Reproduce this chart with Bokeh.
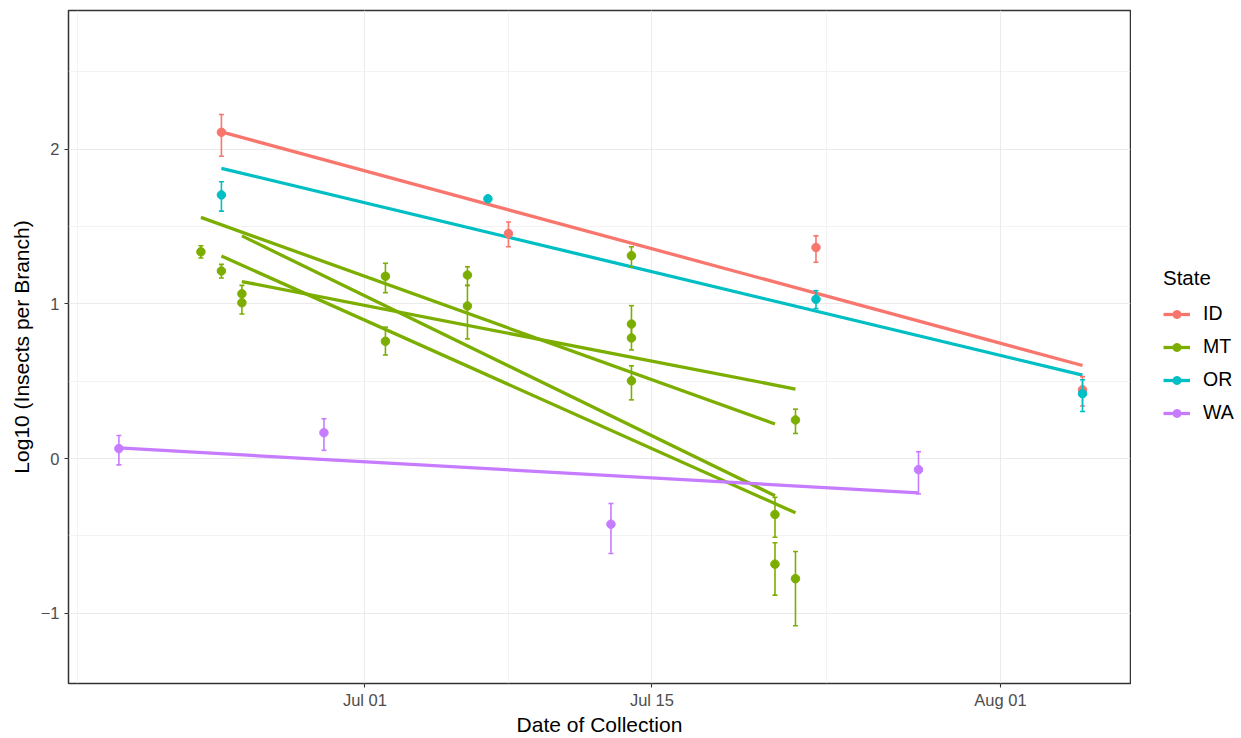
import pandas as pd
from bokeh.plotting import figure
from bokeh.layouts import row
from bokeh.models import (Range1d, FixedTicker, DatetimeTickFormatter, Whisker, TeeHead,
                          ColumnDataSource, Legend, LegendItem)
from bokeh.embed import file_html
from bokeh.resources import INLINE

# ---- data -------------------------------------------------------------
state_names = ["ID", "MT", "OR", "WA"]
state_colors = ["#F8766D", "#7CAE00", "#00BFC4", "#C77CFF"]

# mean log10 insects per branch with error bar limits
id_dates = ["2017-06-24", "2017-07-08", "2017-07-23", "2017-08-05"]
id_mean = [2.11, 1.455, 1.365, 0.445]
id_lower = [1.955, 1.37, 1.27, 0.34]
id_upper = [2.225, 1.53, 1.44, 0.53]

mt_dates = ["2017-06-23", "2017-06-24", "2017-06-25", "2017-06-25",
            "2017-07-02", "2017-07-02", "2017-07-06", "2017-07-06",
            "2017-07-14", "2017-07-14", "2017-07-14", "2017-07-14",
            "2017-07-21", "2017-07-21", "2017-07-22", "2017-07-22"]
mt_mean = [1.337, 1.213, 1.066, 1.008, 1.179, 0.759, 1.187, 0.987,
           1.312, 0.87, 0.78, 0.503, -0.361, -0.682, 0.25, -0.776]
mt_lower = [1.297, 1.168, 1.01, 0.935, 1.073, 0.67, 1.12, 0.774,
            1.24, 0.76, 0.703, 0.38, -0.508, -0.882, 0.163, -1.08]
mt_upper = [1.376, 1.256, 1.12, 1.07, 1.263, 0.85, 1.24, 1.12,
            1.37, 0.989, 0.89, 0.60, -0.25, -0.544, 0.32, -0.60]

or_dates = ["2017-06-24", "2017-07-07", "2017-07-23", "2017-08-05"]
or_mean = [1.705, 1.68, 1.03, 0.42]
or_lower = [1.60, 1.68, 0.97, 0.305]
or_upper = [1.79, 1.68, 1.086, 0.51]

wa_dates = ["2017-06-19", "2017-06-29", "2017-07-13", "2017-07-28"]
wa_mean = [0.065, 0.168, -0.424, -0.071]
wa_lower = [-0.04, 0.054, -0.613, -0.228]
wa_upper = [0.15, 0.258, -0.29, 0.045]

# linear fits (one per collection site)
fit_state = ["ID", "MT", "MT", "MT", "MT", "OR", "WA"]
fit_start_date = ["2017-06-24", "2017-06-23", "2017-06-24", "2017-06-25", "2017-06-25",
                  "2017-06-24", "2017-06-19"]
fit_start = [2.112, 1.56, 1.31, 1.44, 1.145, 1.877, 0.069]
fit_end_date = ["2017-08-05", "2017-07-21", "2017-07-22", "2017-07-21", "2017-07-22",
                "2017-08-05", "2017-07-28"]
fit_end = [0.602, 0.224, -0.35, -0.24, 0.45, 0.54, -0.221]

x_tick_dates = ["2017-07-01", "2017-07-15", "2017-08-01"]
x_minor_dates = ["2017-06-17", "2017-07-08", "2017-07-23 12:00"]
y_ticks = [-1, 0, 1, 2]
y_minor = [-0.5, 0.5, 1.5, 2.5]
y_tick_labels = ["\u22121", "0", "1", "2"]

series = {
    "ID": (id_dates, id_mean, id_lower, id_upper),
    "MT": (mt_dates, mt_mean, mt_lower, mt_upper),
    "OR": (or_dates, or_mean, or_lower, or_upper),
    "WA": (wa_dates, wa_mean, wa_lower, wa_upper),
}

# ---- main panel -------------------------------------------------------
FONT = "Liberation Sans"
LINE_W = 3.3
PT_SIZE = 8.5


def ms(d):
    return pd.Timestamp(d).value / 1e6


p = figure(width=1131, height=738, x_axis_type="datetime",
           x_range=Range1d(pd.Timestamp("2017-06-16 13:00"), pd.Timestamp("2017-08-07 08:10")),
           y_range=Range1d(-1.4535, 2.897),
           output_backend="svg", toolbar_location=None,
           min_border_left=68, min_border_right=1, min_border_top=10, min_border_bottom=54)

p.background_fill_color = "white"
p.border_fill_color = "white"
p.outline_line_color = "#333333"
p.outline_line_width = 1.5

p.xaxis.ticker = FixedTicker(ticks=[ms(d) for d in x_tick_dates],
                             minor_ticks=[ms(d) for d in x_minor_dates])
p.xaxis.formatter = DatetimeTickFormatter(days="%b %d", months="%b %d", years="%b %d")
p.yaxis.ticker = FixedTicker(ticks=y_ticks, minor_ticks=y_minor)
p.yaxis.major_label_overrides = dict(zip(y_ticks, y_tick_labels))

for ax in (p.xaxis, p.yaxis):
    ax.axis_line_color = None
    ax.major_tick_line_color = "#333333"
    ax.major_tick_line_width = 1.1
    ax.major_tick_out = 4
    ax.major_tick_in = 0
    ax.minor_tick_line_color = None
    ax.major_label_text_font = FONT
    ax.major_label_text_font_size = "16.5px"
    ax.major_label_text_color = "#4D4D4D"
    ax.axis_label_text_font = FONT
    ax.axis_label_text_font_size = "21px"
    ax.axis_label_text_font_style = "normal"
    ax.axis_label_text_color = "black"

p.xaxis.axis_label = "Date of Collection"
p.yaxis.axis_label = "Log10 (Insects per Branch)"
p.xaxis.major_label_standoff = 3
p.xaxis.axis_label_standoff = 1
p.yaxis.major_label_standoff = 5
p.yaxis.axis_label_standoff = 5

for g in (p.xgrid, p.ygrid):
    g.grid_line_color = "#EBEBEB"
    g.grid_line_width = 1.1
    g.minor_grid_line_color = "#EBEBEB"
    g.minor_grid_line_width = 0.6

color_of = dict(zip(state_names, state_colors))

# fitted lines
for st, d0, v0, d1, v1 in zip(fit_state, fit_start_date, fit_start, fit_end_date, fit_end):
    p.line(x=[pd.Timestamp(d0), pd.Timestamp(d1)], y=[v0, v1],
           line_color=color_of[st], line_width=LINE_W, line_cap="butt")

# error bars and means
for st in state_names:
    dates, mean, lower, upper = series[st]
    src = ColumnDataSource(dict(x=pd.to_datetime(dates), y=mean, lo=lower, hi=upper))
    col = color_of[st]
    w = Whisker(base="x", upper="hi", lower="lo", source=src, dimension="height",
                line_color=col, line_width=1.6,
                upper_head=TeeHead(size=5, line_color=col, line_width=1.6),
                lower_head=TeeHead(size=5, line_color=col, line_width=1.6))
    w.level = "glyph"
    p.add_layout(w)
    p.scatter("x", "y", source=src, size=PT_SIZE, fill_color=col, line_color=col)

# ---- legend strip on the right ----------------------------------------
lg = figure(width=110, height=738, x_range=Range1d(0, 110), y_range=Range1d(0, 738),
            output_backend="svg", toolbar_location=None,
            x_axis_location=None, y_axis_location=None,
            min_border=0, outline_line_color=None)
lg.grid.visible = False
lg.background_fill_color = "white"
lg.border_fill_color = "white"

# key renderers: a single point placed outside the visible range so only the legend shows them
items = []
for st in state_names:
    col = color_of[st]
    key_line = lg.line(x=[-50, -40], y=[-50, -50], line_color=col, line_width=LINE_W)
    key_pt = lg.scatter(x=[-50], y=[-50], size=PT_SIZE, fill_color=col, line_color=col)
    items.append(LegendItem(label=st, renderers=[key_line, key_pt]))

legend = Legend(items=items, title="State", location=(32, 259),
                title_text_font=FONT, title_text_font_size="20.5px",
                title_text_font_style="normal", title_text_color="black",
                title_standoff=12,
                label_text_font=FONT, label_text_font_size="19.5px",
                label_text_color="black",
                glyph_width=27, glyph_height=20, label_height=20,
                label_standoff=13, spacing=10, padding=4, margin=0,
                border_line_color=None, background_fill_alpha=0)
lg.add_layout(legend)

layout = row(p, lg, spacing=0)
open("out.html", "w").write(file_html(layout, INLINE))
